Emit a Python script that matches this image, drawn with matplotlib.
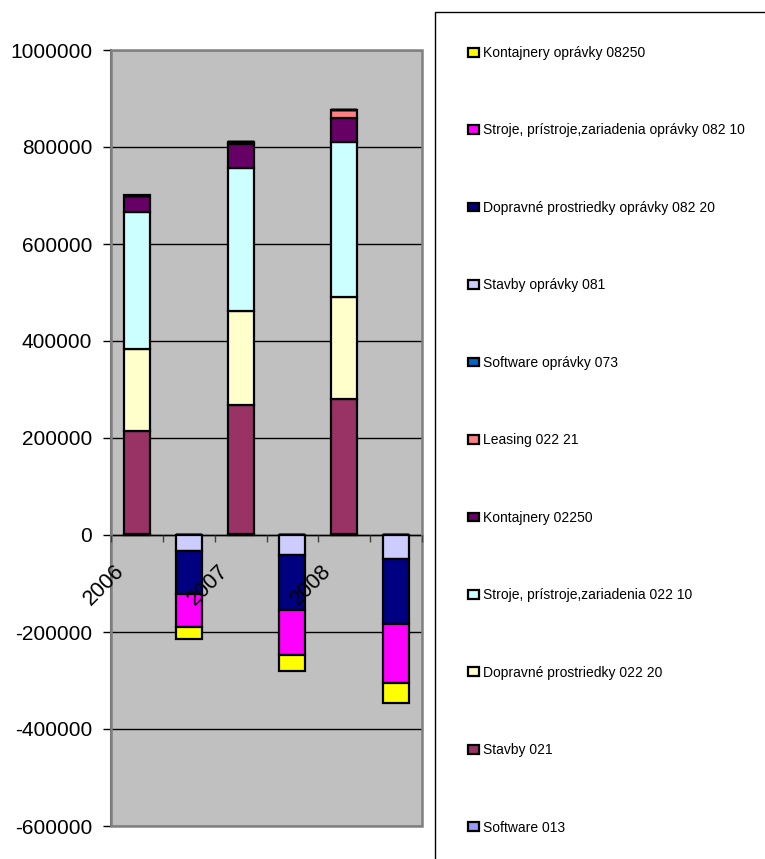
import numpy as np
import matplotlib
matplotlib.use("Agg")
import matplotlib.pyplot as plt
from matplotlib.patches import Rectangle
from matplotlib.transforms import ScaledTranslation

plt.rcParams['font.family'] = ['Liberation Sans', 'DejaVu Sans']

# Data
categories = ['2006', '', '2007', '', '2008', '']

series_names = [
    'Software 013',
    'Stavby 021',
    'Dopravné prostriedky 022 20',
    'Stroje, prístroje,zariadenia 022 10',
    'Kontajnery 02250',
    'Leasing 022 21',
    'Software oprávky 073',
    'Stavby oprávky 081',
    'Dopravné prostriedky oprávky 082 20',
    'Stroje, prístroje,zariadenia oprávky 082 10',
    'Kontajnery oprávky 08250',
]

software_013 = [3000, 0, 3000, 0, 3000, 0]
stavby_021 = [211000, 0, 265000, 0, 277000, 0]
dopravne_02220 = [170000, 0, 193000, 0, 210000, 0]
stroje_02210 = [283000, 0, 296000, 0, 321000, 0]
kontajnery_02250 = [33000, 0, 50000, 0, 49000, 0]
leasing_02221 = [0, 0, 3000, 0, 16000, 0]
software_opr_073 = [0, 0, 0, 0, 0, 0]
stavby_opr_081 = [0, -33600, 0, -41200, 0, -49500]
dopravne_opr_08220 = [0, -88000, 0, -112700, 0, -134000]
stroje_opr_08210 = [0, -68700, 0, -93400, 0, -122300]
kontajnery_opr_08250 = [0, -24100, 0, -33600, 0, -40600]

series_values = [software_013, stavby_021, dopravne_02220, stroje_02210,
                 kontajnery_02250, leasing_02221, software_opr_073,
                 stavby_opr_081, dopravne_opr_08220, stroje_opr_08210,
                 kontajnery_opr_08250]

colors = ['#9999FF', '#993366', '#FFFFCC', '#CCFFFF', '#660066', '#FF8080',
          '#0066CC', '#CCCCFF', '#000080', '#FF00FF', '#FFFF00']

# Figure
fig = plt.figure(figsize=(7.65, 8.59), dpi=100)
ax = fig.add_axes([111/765, 1 - 826/859, 311/765, 776/859])
ax.set_facecolor('#C0C0C0')

# spines first - moving a spine resets the ticks
for s in ['top', 'right']:
    ax.spines[s].set_visible(False)
ax.spines['left'].set_color('#606060')
ax.spines['left'].set_linewidth(1.5)
ax.spines['bottom'].set_position(('data', 0))
ax.spines['bottom'].set_color('black')
ax.spines['bottom'].set_linewidth(1)

x = np.arange(len(categories))
pos_bottom = np.zeros(len(categories))
neg_bottom = np.zeros(len(categories))
for name, vals, col in zip(series_names, series_values, colors):
    v = np.array(vals, dtype=float)
    bottom = np.where(v >= 0, pos_bottom, neg_bottom)
    ax.bar(x, v, width=0.5, bottom=bottom, color=col, edgecolor='black',
           linewidth=1.6, label=name, zorder=3)
    pos_bottom += np.where(v > 0, v, 0)
    neg_bottom += np.where(v < 0, v, 0)

ax.set_xlim(-0.5, len(categories) - 0.5)
ax.set_ylim(-600000, 1000000)
ax.set_yticks(np.arange(-600000, 1000001, 200000))
ax.set_yticklabels([str(t) for t in range(-600000, 1000001, 200000)])
ax.yaxis.grid(True, color='black', linewidth=1)
ax.set_axisbelow(True)
ax.xaxis.set_zorder(5)  # year labels sit on top of the bars

ax.set_xticks(x)
ax.set_xticks(np.arange(-0.5, len(categories), 1.0), minor=True)
ax.tick_params(axis='x', which='major', length=0, pad=18.5)
ax.tick_params(axis='x', which='minor', length=5, width=1, direction='out',
               color='#404040')
ax.tick_params(axis='y', length=6, width=1, direction='out', pad=7.5,
               labelsize=15)
ax.set_xticklabels(categories, rotation=45, ha='right', va='top',
                   fontsize=15.5)
shift = ScaledTranslation(-6/72, 0, fig.dpi_scale_trans)
for lbl in ax.get_xticklabels():
    lbl.set_transform(lbl.get_transform() + shift)

ax.add_patch(Rectangle((0, 0), 1, 1, transform=ax.transAxes, fill=False,
                       edgecolor='#808080', linewidth=1.8, clip_on=False,
                       zorder=4))

# Legend (reverse order like Excel)
handles, labels = ax.get_legend_handles_labels()
leg = fig.legend(handles[::-1], labels[::-1], loc='upper left',
                 bbox_to_anchor=(468/765, 1 - 46/859), frameon=False,
                 fontsize=10, borderpad=0, borderaxespad=0,
                 handlelength=0.8, handleheight=0.6, handletextpad=0.3,
                 labelspacing=4.57)
fig.patches.append(Rectangle((435/765, -0.1), 0.6, 1.1 - 12/859,
                             transform=fig.transFigure, fill=False,
                             edgecolor='black', linewidth=1))

fig.savefig('out.png', dpi=100)
